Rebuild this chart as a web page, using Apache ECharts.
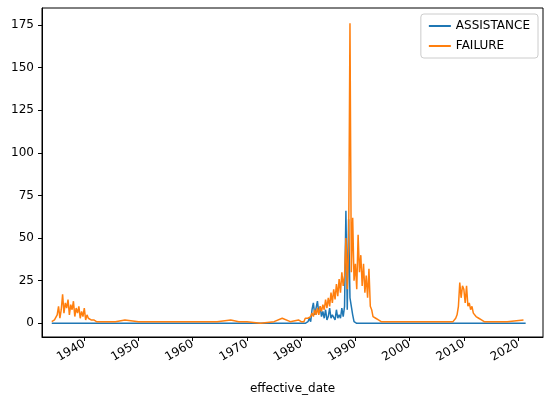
<!DOCTYPE html>
<html><head><meta charset="utf-8">
<script src="https://cdn.jsdelivr.net/npm/echarts@6/dist/echarts.min.js"></script>
<style>html,body{margin:0;background:#fff}#chart-container{width:552px;height:405px}</style>
</head><body>
<div id="chart-container"></div>
<script>
// quarterly readings for the busy years, sparse points (decimal years) for quiet years
var failYears = [1934,1935,1936,1937,1938,1939,1940,1941,1942,1943,1944,1945,
  1980,1981,1982,1983,1984,1985,1986,1987,1988,1989,1990,1991,1992,1993,1994,
  2008,2009,2010,2011,2012,2013];
var failQuarters = [
  [1,2,2,3],[5,10,3,8],[17,6,12,9],[14,5,11,8],[13,4,9,6],[10,3,7,4],[9,2,5,3],[4,2,3,2],[3,1,2,1],[2,1,2,1],[1,1,2,1],[1,1,1,1],
  [1,2,1,3],[2,3,2,4],[6,4,8,5],[9,5,10,7],[11,8,14,9],[15,10,18,12],[20,14,23,16],[26,18,30,22],[28,50,20,45],[176,30,62,25],[35,20,52,30],[40,22,35,18],[28,15,32,10],[8,4,5,3],[3,2,2,1],
  [1,2,3,5],[10,24,15,22],[20,12,22,10],[12,8,10,6],[6,4,5,3],[3,2,2,1]];
var quietFailYears = [1947.5,1950,1955.5,1960,1964.5,1967,1968.5,1970,1972.5,1975,1976.5,1978,1979.5,
  1996,2000,2004.5,2007.5,2015,2018,2021];
var quietFailValues = [2,1,1,1,1,2,1,1,0,1,3,1,2, 1,1,1,1,1,1,2];

var assistYears = [1981,1982,1983,1984,1985,1986,1987,1988,1989,1990];
var assistQuarters = [[0,1,3,1],[8,12,5,4],[13,6,10,4],[7,3,8,2],[4,9,3,5],[6,2,8,3],[5,3,9,4],[10,66,8,61],[15,10,5,1],[1,0,1,0]];
var assistEdgeYears = [1934,1980.75,1991,2021.4];
var assistEdgeValues = [0,0,0,0];

function build(years, quarters, extraYears, extraValues) {
  var pts = [];
  years.forEach(function (y, i) {
    quarters[i].forEach(function (v, q) { pts.push([y + q / 4, v]); });
  });
  extraYears.forEach(function (d, i) { pts.push([d, extraValues[i]]); });
  pts.sort(function (a, b) { return a[0] - b[0]; });
  return pts;
}

var myChart = echarts.init(document.getElementById('chart-container'));
var yTicks = [0,25,50,75,100,125,150,175];
var xTicks = [1940,1950,1960,1970,1980,1990,2000,2010,2020];
myChart.setOption({
  animation: false,
  textStyle: { fontFamily: 'DejaVu Sans' },
  grid: { left: 42, right: 9, top: 8, bottom: 68, containLabel: false, show: true, borderColor: '#000', borderWidth: 1 },
  legend: {
    right: 14, top: 14, orient: 'vertical', itemWidth: 22, itemHeight: 2, itemGap: 8,
    backgroundColor: '#fff', borderColor: '#ccc', borderWidth: 1, borderRadius: 3, padding: [6, 8],
    textStyle: { fontSize: 12, color: '#000' },
    data: [{ name: 'ASSISTANCE', icon: 'rect' }, { name: 'FAILURE', icon: 'rect' }]
  },
  xAxis: {
    type: 'value', min: 1932.2, max: 2024.6,
    name: 'effective_date', nameLocation: 'middle', nameGap: 46,
    nameTextStyle: { fontSize: 12, color: '#000' },
    axisLine: { onZero: false, lineStyle: { color: '#000' } }, splitLine: { show: false },
    axisTick: { customValues: xTicks, length: 4, lineStyle: { color: '#000' } },
    axisLabel: { customValues: xTicks, rotate: 30, fontSize: 12, color: '#000', margin: 6,
      formatter: function (v) { return String(v); } }
  },
  yAxis: {
    type: 'value', min: -8, max: 185, splitLine: { show: false },
    axisLine: { show: true, lineStyle: { color: '#000' } },
    axisTick: { show: true, customValues: yTicks, length: 4, lineStyle: { color: '#000' } },
    axisLabel: { customValues: yTicks, fontSize: 12, color: '#000' }
  },
  series: [
    { name: 'ASSISTANCE', type: 'line', showSymbol: false, color: '#1f77b4', lineStyle: { width: 1.5 },
      data: build(assistYears, assistQuarters, assistEdgeYears, assistEdgeValues) },
    { name: 'FAILURE', type: 'line', showSymbol: false, color: '#ff7f0e', lineStyle: { width: 1.5 },
      data: build(failYears, failQuarters, quietFailYears, quietFailValues) }
  ]
});
</script>
</body></html>
